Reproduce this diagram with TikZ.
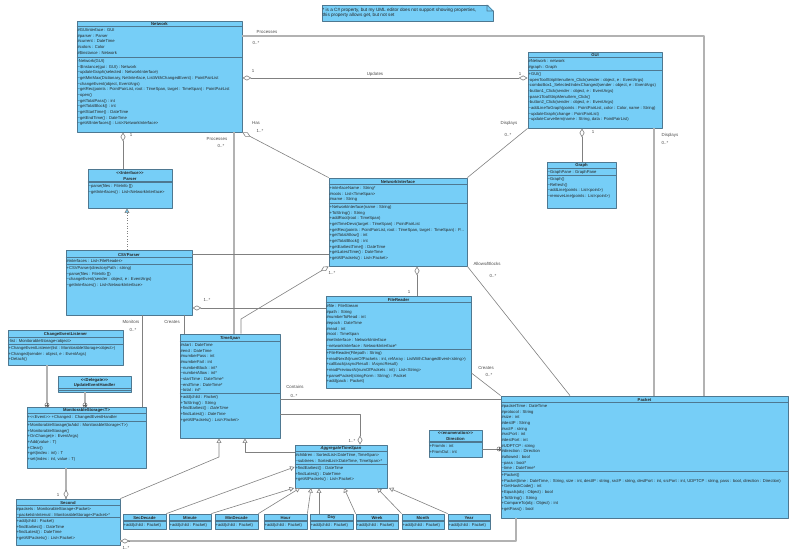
\documentclass[tikz,border=0pt]{standalone}
\usepackage{fontspec}
\setmainfont{Liberation Sans}
\usetikzlibrary{arrows.meta,fit,positioning}
\definecolor{boxblue}{RGB}{118,206,247}
\definecolor{boxedge}{RGB}{78,120,145}
\def\T{\textasciitilde{}}
\tikzset{
	classbox/.style={draw=boxedge,fill=boxblue,line width=0.8pt,inner sep=0pt},
	classline/.style={draw=boxedge,line width=0.6pt},
	titletext/.style={font=\fontsize{4.2}{5.6}\selectfont\bfseries,anchor=south,inner sep=0.3pt,align=center,text=black!85},
	rowtext/.style={font=\fontsize{4.17}{5.67}\selectfont,anchor=north west,inner sep=0pt,xshift=0.8pt,yshift=-2.2pt,align=left,text=black!85},
	linelabel/.style={font=\fontsize{4.4}{5}\selectfont,inner sep=0pt,text=black!70},
	assoc/.style={draw=black!50,line width=0.6pt},
	heavy/.style={draw=black!30,line width=1.4pt},
	diamondtip/.tip={Diamond[fill=white,length=9pt,width=5pt]},
	trianglehead/.tip={Triangle[fill=white,length=4.5pt,width=4.8pt]},
	nested/.style={circle,draw=black!60,fill=white,inner sep=0pt,minimum size=4.2pt,line width=0.4pt,
		path picture={\draw[black!60,line width=0.4pt] (path picture bounding box.north)--(path picture bounding box.south) (path picture bounding box.west)--(path picture bounding box.east);}}
}
% name, top left, bottom right, header y, attributes y, title, attributes, operations
\newcommand{\umlbox}[8]{
	\node[classbox,fit={(#2) (#3)}] (#1) {};
	\draw[classline] (#1.west |- 0,#4)--(#1.east |- 0,#4);
	\draw[classline] (#1.west |- 0,#5)--(#1.east |- 0,#5);
	\node[titletext] (#1title) at (#1.north |- 0,#4) {#6};
	\node[rowtext] (#1attrs) at (#1.west |- 0,#4) {#7};
	\node[rowtext] (#1ops) at (#1.west |- 0,#5) {#8};
}
\begin{document}
\begin{tikzpicture}[x=1pt,y=-1pt,line join=round,>=stealth]
	\useasboundingbox (0,0) rectangle (800,553);
	%Draw the note
	\node[classbox,fit={(322,5) (493,21)}] (note) {};
	\fill[white] (487,4) -- (494,4) -- (494,11) -- cycle;
	\draw[classline] (487,5) -- (493,11) -- (487,11) -- cycle;
	\node[rowtext,font=\fontsize{4.65}{5.4}\selectfont,yshift=-1.2pt] (notetext) at (note.north west) {* is a C\# property, but my UML editor does not support showing properties,\\this property allows get, but not set};
	%Draw the classes
	\umlbox{network}{77,21}{242,132}{26}{57}{Network}
		{\#GUIinterface : GUI\\\#parser : Parser\\\#current : DateTime\\\#colors : Color\\\#\$instance : Network}
		{-Network(GUI)\\\T\$Instance(gui : GUI) : Network\\\T updateGraph(selected : NetworkInterface)\\\T getMinMax(Dictionary, NetInterface, ListWithChangedEvent) : PointPairList\\\T changeEvent(object, EventArgs)\\\T getRec(points : PointPairList, root : TimeSpan, target : TimeSpan) : PointPairList\\\T open()\\\T getTotalPass() : int\\\T getTotalBlock() : int\\\T getStartTime() : DateTime\\\T getEndTime() : DateTime\\\T getAllInterfaces() : List<NetworkInterface>}
	\umlbox{gui}{528,52}{662,128}{57}{70}{GUI}
		{\#Network : network\\\#graph : Graph}
		{+GUI()\\-openToolStripMenuItem\_Click(sender : object, e : EventArgs)\\-comboBox1\_SelectedIndexChanged(sender : object, e : EventArgs)\\-button1\_Click(sender : object, e : EventArgs)\\-pase1ToolStripMenuItem\_Click()\\-button2\_Click(sender : object, e : EventArgs)\\\T addLineToGraph(points : PointPairList, color : Color, name : String)\\\T updateGraph(change : PointPairList)\\\T updateCurveItem(name : String, data : PointPairList)}
	\umlbox{graph}{547,162}{616,208}{168}{175}{Graph}
		{\T GraphPane : GraphPane}
		{\T Graph()\\\T Refresh()\\\T addLine(points : List<point>)\\\T removeLine(points : List<point>)}
	\umlbox{netif}{329,178}{467,266}{184}{203}{NetworkInterface}
		{+interfaceName : String*\\\#roots : List<TimeSpan>\\\#name : String}
		{+NetworkInterface(name : String)\\+ToString() : String\\+addRoot(root : TimeSpan)\\+getTimeDevs(target : TimeSpan) : PointPairList\\+getRec(points : PointPairList, root : TimeSpan, target : TimeSpan) : P...\\+getTotalAllow() : int\\+getTotalBlock() : int\\+getEarliestTime() : DateTime\\+getLatestTime() : DateTime\\+getAllPackets() : List<Packet>}
	\umlbox{parser}{88,169}{172,208}{181}{182}{<{}<Interface>{}>\\Parser}
		{}
		{\T parse(files : FileInfo [])\\\T getInterfaces() : List<NetworkInterface>}
	\umlbox{csvparser}{66,250}{192,315}{257}{264}{CSVParser}
		{\#interfaces : List<FileReader>}
		{+CSVParser(directoryPath : string)\\\T parse(files : FileInfo [])\\\T changeEvent(sender : object, e : EventArgs)\\\T getInterfaces() : List<NetworkInterface>}
	\umlbox{filereader}{326,296}{471,388}{302}{349}{FileReader}
		{\#file : FileStream\\\#path : String\\\#numberToRead : int\\\#epoch : DateTime\\\#read : int\\\#root : TimeSpan\\\#netInterface : NetworkInterface\\\T networkInterface : NetworkInterface*}
		{+FileReader(Filepath : String)\\+readNextN(numOfPackets : int, refArray : ListWithChangedEvent<string>)\\+callback(asyncResult : IAsyncResult)\\+readPreviousN(numOfPackets : int) : List<String>\\+parsePacket(stringForm : String) : Packet\\+add(pack : Packet)}
	\umlbox{listener}{8,330}{123,365}{337}{344}{ChangeEventListener}
		{-list : MonitorableStorage<object>}
		{+ChangeEventListener(list : MonitorableStorage<object>)\\+Changed(sender : object, e : EventArgs)\\+Detach()}
	\umlbox{handler}{58,376}{131,392}{388}{390}{<{}<Delegate>{}>\\UpdateEventHandler}{}{}
	\umlbox{storage}{27,407}{146,468}{413}{421}{MonitorableStorage<T>}
		{+<{}<Event>{}> +Changed : ChangedEventHandler}
		{+MonitorableStorage(toAdd : MonitorableStorage<T>)\\+MonitorableStorage()\\+OnChange(e : EventArgs)\\+Add(value : T)\\+Clear()\\+get(index : int) : T\\+set(index : int, value : T)}
	\umlbox{second}{16,499}{120,545}{505}{517}{Second}
		{\#packets : MonitorableStorage<Packet>\\\T packetsInInterval : MonitorableStorage<Packet>*}
		{+add(child : Packet)\\+findEarliest() : DateTime\\+findLatest() : DateTime\\+getAllPackets() : List<Packet>}
	\umlbox{timespan}{180,334}{280,438}{341}{393}{\itshape TimeSpan}
		{\#start : DateTime\\\#end : DateTime\\\#numberPass : int\\\#numberFail : int\\\T numberBlock : int*\\\T numberAllow : int*\\\T startTime : DateTime*\\\T endTime : DateTime*\\\T total : int*}
		{+add(child : {\itshape Packet})\\+ToString() : String\\+findEarliest() : {\itshape DateTime}\\+findLatest() : {\itshape DateTime}\\+getAllPackets() : {\itshape List<Packet>}}
	\umlbox{aggregate}{295,445}{387,488}{451}{464}{\itshape AggregateTimeSpan}
		{\#children : SortedList<DateTime, TimeSpan>\\\T subtrees : SortedList<DateTime, TimeSpan>*}
		{+findEarliest() : DateTime\\+findLatest() : DateTime\\+getAllPackets() : List<Packet>}
	\umlbox{secdecade}{123,514}{166,529}{520}{521}{SecDecade}{}{+add(child : Packet)}
	\umlbox{minute}{169,514}{211,529}{520}{521}{Minute}{}{+add(child : Packet)}
	\umlbox{mindecade}{215,514}{258,529}{520}{521}{MinDecade}{}{+add(child : Packet)}
	\umlbox{hour}{264,514}{307,529}{520}{521}{Hour}{}{+add(child : Packet)}
	\umlbox{day}{310,514}{353,529}{520}{521}{Day}{}{+add(child : Packet)}
	\umlbox{week}{356,514}{398,529}{520}{521}{Week}{}{+add(child : Packet)}
	\umlbox{month}{402,514}{444,529}{520}{521}{Month}{}{+add(child : Packet)}
	\umlbox{year}{448,514}{490,529}{520}{521}{Year}{}{+add(child : Packet)}
	\umlbox{direction}{429,430}{482,457}{441}{442}{<{}<enumeration>{}>\\Direction}
		{}
		{+FromIn : int\\+FromOut : int}
	\umlbox{packet}{501,396}{788,518}{402}{471}{Packet}
		{\#packetTime : DateTime\\\#protocol : String\\\#size : int\\\#destIP : String\\\#srcIP : string\\\#srcPort : int\\\#destPort : int\\\#UDPTCP : string\\\#direction : Direction\\\#allowed : bool\\\T pass : bool*\\\T time : DateTime*}
		{+Packet()\\+Packet(time : DateTime, : String, size : int, destIP : string, srcIP : string, destPort : int, srcPort : int, UDPTCP : string, pass : bool, direction : Direction)\\+GetHashCode() : int\\+Equals(obj : Object) : bool\\+ToString() : String\\+CompareTo(obj : Object) : int\\+getPass() : bool}
	%Draw the connectors
	\draw[heavy] (network.east |- 0,36)--(704,36)--(packet.north -| 704,0);
	\draw[assoc,diamondtip-diamondtip] (network.east |- 0,78)--(gui.west |- 0,78);
	\draw[assoc,diamondtip-] (network.south east)--(netif.north west);
	\draw[assoc,diamondtip-] (network.south -| 123,0)--(parser.north -| 123,0);
	\draw[heavy] (network.south -| 234,0)--(timespan.north -| 234,0);
	\draw[assoc,dotted,-{Triangle[fill=boxblue,length=4.5pt,width=4.8pt]}] (csvparser.north -| 127,0)--(parser.south -| 127,0);
	\draw[assoc] (csvparser.east |- 0,254)--(netif.west |- 0,254);
	\draw[assoc,diamondtip-] (csvparser.east |- 0,308)--(filereader.west |- 0,308);
	\draw[assoc,diamondtip-] (netif.south west)--(241,319)--(timespan.north -| 241,0);
	\draw[assoc] (csvparser.south -| 142,0)--(storage.north -| 142,0);
	\draw[assoc] (csvparser.south -| 184,0)--(timespan.north -| 184,0);
	\draw[assoc] (gui.south west)--(netif.north east);
	\draw[heavy] (gui.south -| 654,0)--(packet.north -| 654,0);
	\draw[assoc,diamondtip-] (gui.south -| 582,0)--(graph.north -| 582,0);
	\draw[assoc] (netif.south east)--(packet.north -| 570,0);
	\draw[assoc,diamondtip-] (netif.south -| 417,0)--(filereader.north -| 417,0);
	\draw[assoc] (filereader.east |- 0,373)--(packet.north west);
	\draw[assoc] (timespan.east |- 0,399)--(packet.west |- 0,399);
	\draw[assoc,-diamondtip] (timespan.east |- 0,414)--(360,414)--(aggregate.north -| 360,0);
	\draw[assoc,-trianglehead] (aggregate.west |- 0,452)--(245,452)--(timespan.south -| 245,0);
	\draw[assoc,-trianglehead] (second.north east)--(219,457)--(timespan.south -| 219,0);
	\draw[assoc,-trianglehead] (secdecade.north east)--(aggregate.west |- 0,467);
	\draw[assoc,-trianglehead] (minute.north east)--(294,488);
	\draw[assoc,-trianglehead] (mindecade.north east)--(300,488);
	\draw[assoc,-trianglehead] (hour.north east)--(311,488);
	\draw[assoc,-trianglehead] (day.north -| 319,0)--(aggregate.south -| 319,0);
	\draw[assoc,-trianglehead] (week.north west)--(344,488);
	\draw[assoc,-trianglehead] (month.north west)--(377,488);
	\draw[assoc,-trianglehead] (year.north west)--(389,488);
	\draw[heavy] (storage.south -| 66,0)--(second.north -| 66,0);
	\draw[assoc,diamondtip-] (second.north -| 66,0)--(66,490);
	\draw[heavy] (second.east |- 0,541)--(516,541)--(packet.south -| 516,0);
	\draw[assoc,diamondtip-] (second.east |- 0,541)--(129,541);
	%Draw the nested marks
	\draw[heavy] (listener.south -| 47,0)--(storage.north -| 47,0);
	\node[nested] (nestlistener) at (47,405) {};
	\draw[heavy] (handler.south -| 85,0)--(storage.north -| 85,0);
	\node[nested] (nesthandler) at (85,405) {};
	\draw[assoc] (direction.east |- 0,449)--(packet.west |- 0,449);
	\node[nested] (nestdirection) at (499,449) {};
	%Draw the labels
	\node[linelabel] (lbprocesses) at (267,32) {Processes};
	\node[linelabel] (lbprocessesm) at (256,43) {0..*};
	\node[linelabel] (lbone) at (253,71) {1};
	\node[linelabel] (lbupdates) at (375,74) {Updates};
	\node[linelabel] (lbonegui) at (520,74) {1};
	\node[linelabel] (lbhas) at (256,123) {Has};
	\node[linelabel] (lbhasm) at (260,131) {1..*};
	\node[linelabel] (lbparser) at (131,135) {1};
	\node[linelabel] (lbprocessest) at (217,139) {Processes};
	\node[linelabel] (lbprocessestm) at (221,146) {0..*};
	\node[linelabel] (lbdisplays) at (509,123) {Displays};
	\node[linelabel] (lbdisplaysm) at (508,135) {0..*};
	\node[linelabel] (lbdisplaysr) at (670,135) {Displays};
	\node[linelabel] (lbdisplaysrm) at (665,143) {0..*};
	\node[linelabel] (lbgraph) at (593,132) {1};
	\node[linelabel] (lballows) at (487,264) {Allows/Blocks};
	\node[linelabel] (lballowsm) at (493,276) {0..*};
	\node[linelabel] (lbnetif) at (332,273) {1..*};
	\node[linelabel] (lbfile) at (409,292) {1};
	\node[linelabel] (lbcsv) at (207,300) {1..*};
	\node[linelabel] (lbmonitors) at (131,322) {Monitors};
	\node[linelabel] (lbmonitorsm) at (133,330) {0..*};
	\node[linelabel] (lbcreates) at (172,322) {Creates};
	\node[linelabel] (lbcreatesp) at (486,368) {Creates};
	\node[linelabel] (lbcreatespm) at (489,375) {0..*};
	\node[linelabel] (lbcontains) at (295,387) {Contains};
	\node[linelabel] (lbcontainsm) at (294,396) {0..*};
	\node[linelabel] (lbaggregate) at (352,441) {1..*};
	\node[linelabel] (lbsecond) at (58,495) {1};
	\node[linelabel] (lbsecondm) at (126,548) {1..*};
\end{tikzpicture}
\end{document}
